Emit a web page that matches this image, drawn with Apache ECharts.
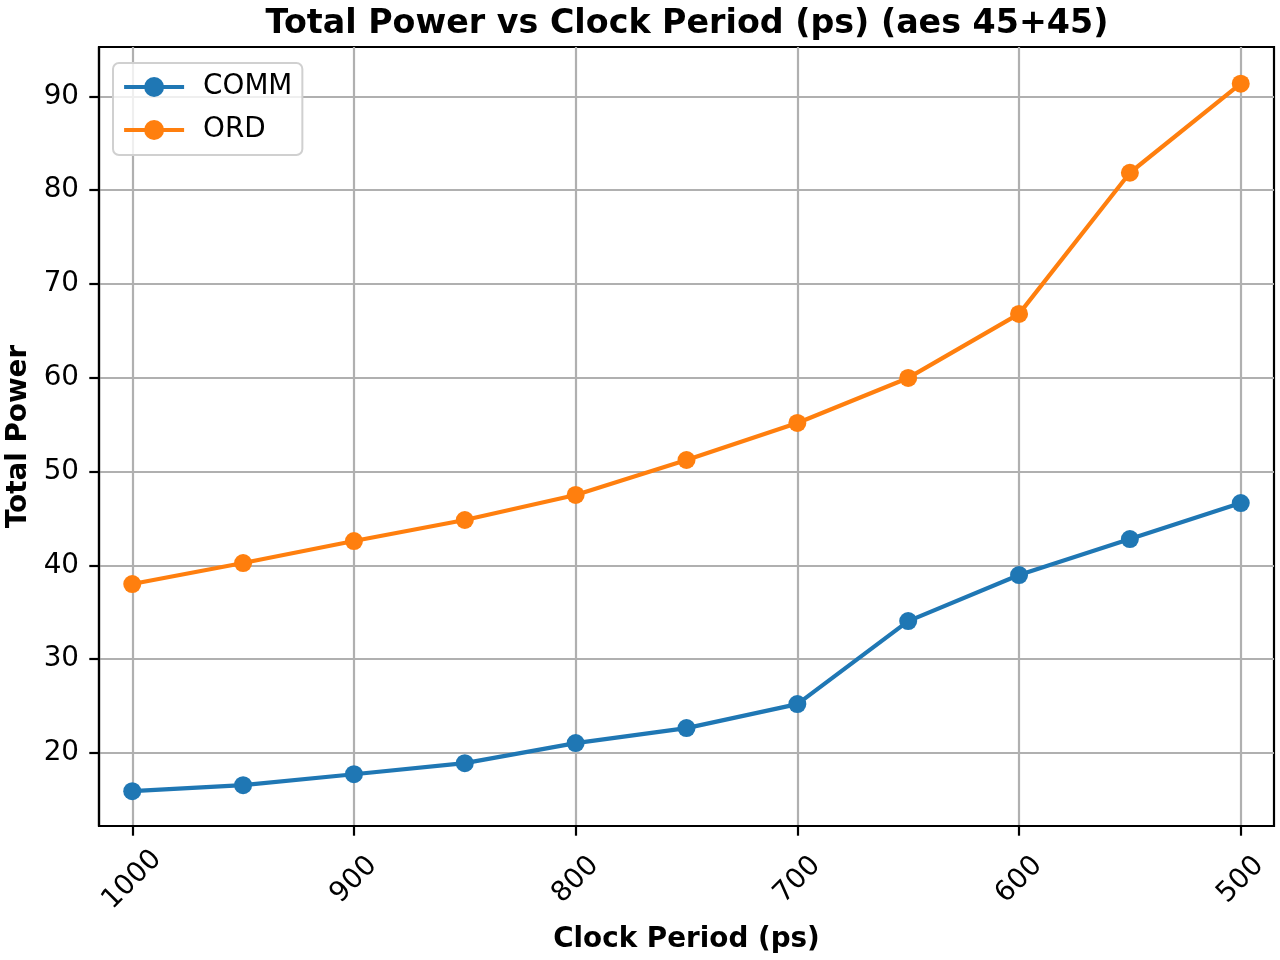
<!DOCTYPE html>
<html>
<head>
<meta charset="utf-8">
<script src="https://cdn.jsdelivr.net/npm/echarts@6/dist/echarts.min.js"></script>
<style>html,body{margin:0;padding:0;background:#fff}#c{width:1280px;height:960px}</style>
</head>
<body>
<div id="c"></div>
<script>
const clockPeriods = [1000, 950, 900, 850, 800, 750, 700, 650, 600, 550, 500];
const commPower = [15.91, 16.55, 17.72, 18.9, 21.04, 22.64, 25.2, 34.05, 38.96, 42.8, 46.64];
const ordPower = [38.0, 40.24, 42.59, 44.83, 47.5, 51.23, 55.18, 59.98, 66.81, 81.86, 91.36];
const xTicks = [500, 600, 700, 800, 900, 1000];
const yTicks = [20, 30, 40, 50, 60, 70, 80, 90];
const seriesNames = ['COMM', 'ORD'];
const colors = ['#1f77b4', '#ff7f0e'];

const FONT = 'DejaVu Sans';
const chart = echarts.init(document.getElementById('c'), null, {renderer: 'canvas'});
const pairs = (ys) => clockPeriods.map((x, i) => [x, ys[i]]);
const mkSeries = (name, ys, color) => ({
  name, type: 'line', data: pairs(ys),
  symbol: 'circle', symbolSize: 18, showSymbol: true,
  lineStyle: {color, width: 4.2},
  itemStyle: {color, borderWidth: 0},
  emphasis: {disabled: true},
  animation: false
});

chart.setOption({
  animation: false,
  backgroundColor: '#ffffff',
  title: {
    text: 'Total Power vs Clock Period (ps) (aes 45+45)',
    left: 682, top: 3, textAlign: 'center',
    textStyle: {fontFamily: FONT, fontWeight: 'bold', fontSize: 33.3, color: '#000'}
  },
  legend: {
    left: 113, top: 63, orient: 'vertical',
    data: seriesNames,
    itemWidth: 60, itemHeight: 25, itemGap: 15,
    padding: [10, 10, 11, 9],
    lineStyle: {width: 4.2},
    itemStyle: {borderWidth: 0},
    backgroundColor: 'rgba(255,255,255,0.8)',
    borderColor: '#d0d0d0', borderWidth: 2, borderRadius: 6,
    textStyle: {fontFamily: FONT, fontSize: 27.8, color: '#000', lineHeight: 28, padding: [0, 0, 0, 14]}
  },
  grid: {
    left: 99, right: 6, top: 47, bottom: 134,
    show: true, borderColor: '#000', borderWidth: 2.2, backgroundColor: 'transparent',
    containLabel: false, outerBoundsMode: 'none'
  },
  xAxis: {
    type: 'value', inverse: true, min: 485, max: 1015,
    name: 'Clock Period (ps)', nameLocation: 'middle', nameGap: 100,
    nameTextStyle: {fontFamily: FONT, fontWeight: 'bold', fontSize: 27.8, color: '#000'},
    axisLine: {show: true, lineStyle: {color: '#000', width: 2.2}},
    axisTick: {show: true, length: 9.7, lineStyle: {color: '#000', width: 2.2}, customValues: xTicks},
    axisLabel: {
      customValues: xTicks, rotate: 45, align: 'center', verticalAlign: 'middle', margin: 54,
      formatter: (v) => String(v),
      fontFamily: FONT, fontSize: 27.8, color: '#000'
    },
    splitLine: {show: true, lineStyle: {color: '#b0b0b0', width: 2.2}}
  },
  yAxis: {
    type: 'value', min: 12.2, max: 95.27,
    name: 'Total Power', nameLocation: 'middle', nameRotate: 90, nameGap: 66.5,
    nameTextStyle: {fontFamily: FONT, fontWeight: 'bold', fontSize: 27.8, color: '#000'},
    axisLine: {show: true, lineStyle: {color: '#000', width: 2.2}},
    axisTick: {show: true, length: 9.7, lineStyle: {color: '#000', width: 2.2}, customValues: yTicks},
    axisLabel: {customValues: yTicks, margin: 20, formatter: (v) => String(v), fontFamily: FONT, fontSize: 27.8, color: '#000'},
    splitLine: {show: true, lineStyle: {color: '#b0b0b0', width: 2.2}}
  },
  series: [
    mkSeries(seriesNames[0], commPower, colors[0]),
    mkSeries(seriesNames[1], ordPower, colors[1])
  ]
});
</script>
</body>
</html>
